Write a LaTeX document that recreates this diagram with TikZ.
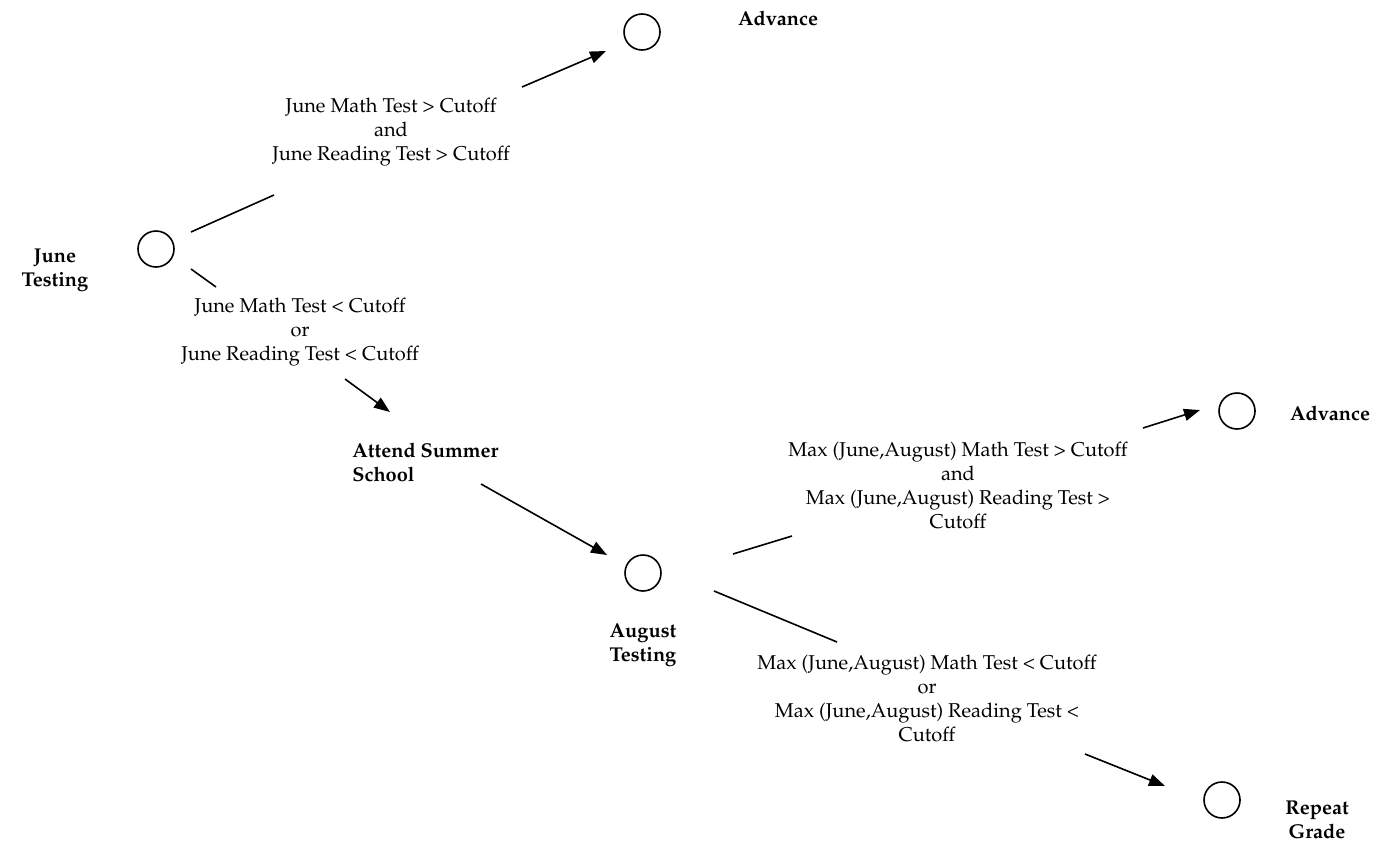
\documentclass[tikz,border=0pt]{standalone}
\usepackage[T1]{fontenc}
\usepackage{mathpazo}
\usetikzlibrary{arrows.meta}
\tikzset{
    state/.style={draw, circle, line width=0.8pt, minimum size=18pt, inner sep=0pt},
    cond/.style={align=center, inner sep=0pt},
    title/.style={align=center, inner sep=0pt, font=\bfseries},
    seg/.style={line width=0.8pt},
    arr/.style={line width=0.8pt, -{Triangle[length=8pt,width=6pt]}}
}
\begin{document}
\begin{tikzpicture}[x=0.5pt, y=-0.5pt]
            \useasboundingbox (0, 0) rectangle (1395, 846);
            \node[state] (june) at (156, 249) {};
            \node[state] (advA) at (642, 32) {};
            \node[state] (aug) at (643, 573) {};
            \node[state] (advB) at (1237, 411) {};
            \node[state] (rep) at (1222, 800) {};
            \node[title] (juneT) at (55, 270) {June\\Testing};
            \node[title] (advAT) at (778, 18) {Advance};
            \node[title, align=left, anchor=west] (school) at (352, 462) {Attend Summer\\School};
            \node[title] (augT) at (643, 645) {August\\Testing};
            \node[title] (advBT) at (1330, 413) {Advance};
            \node[title] (repT) at (1317, 820) {Repeat\\Grade};
            \node[cond] (passJ) at (391, 132) {June Math Test > Cutoff\\and\\June Reading Test > Cutoff};
            \node[cond] (failJ) at (300, 332) {June Math Test < Cutoff\\or\\June Reading Test < Cutoff};
            \node[cond] (passA) at (958, 485) {Max (June,August) Math Test > Cutoff\\and\\Max (June,August) Reading Test >\\Cutoff};
            \node[cond] (failA) at (927, 698) {Max (June,August) Math Test < Cutoff\\or\\Max (June,August) Reading Test <\\Cutoff};
            \coordinate (ja1) at (191, 232);
            \coordinate (ja2) at (274, 195);
            \coordinate (ja3) at (522, 87);
            \coordinate (ja4) at (606, 51);
            \coordinate (jb1) at (191, 269);
            \coordinate (jb2) at (216, 287);
            \coordinate (jb3) at (345, 379);
            \coordinate (jb4) at (390, 412);
            \coordinate (s1) at (481, 484);
            \coordinate (s2) at (607, 555);
            \coordinate (aa1) at (733, 554);
            \coordinate (aa2) at (792, 536);
            \coordinate (aa3) at (1143, 428);
            \coordinate (aa4) at (1200, 410);
            \coordinate (ab1) at (714, 591);
            \coordinate (ab2) at (837, 642);
            \coordinate (ab3) at (1085, 754);
            \coordinate (ab4) at (1165, 786);
            \draw[seg] (ja1) -- (ja2);
            \draw[arr] (ja3) -- (ja4);
            \draw[seg] (jb1) -- (jb2);
            \draw[arr] (jb3) -- (jb4);
            \draw[arr] (s1) -- (s2);
            \draw[seg] (aa1) -- (aa2);
            \draw[arr] (aa3) -- (aa4);
            \draw[seg] (ab1) -- (ab2);
            \draw[arr] (ab3) -- (ab4);
\end{tikzpicture}
\end{document}
